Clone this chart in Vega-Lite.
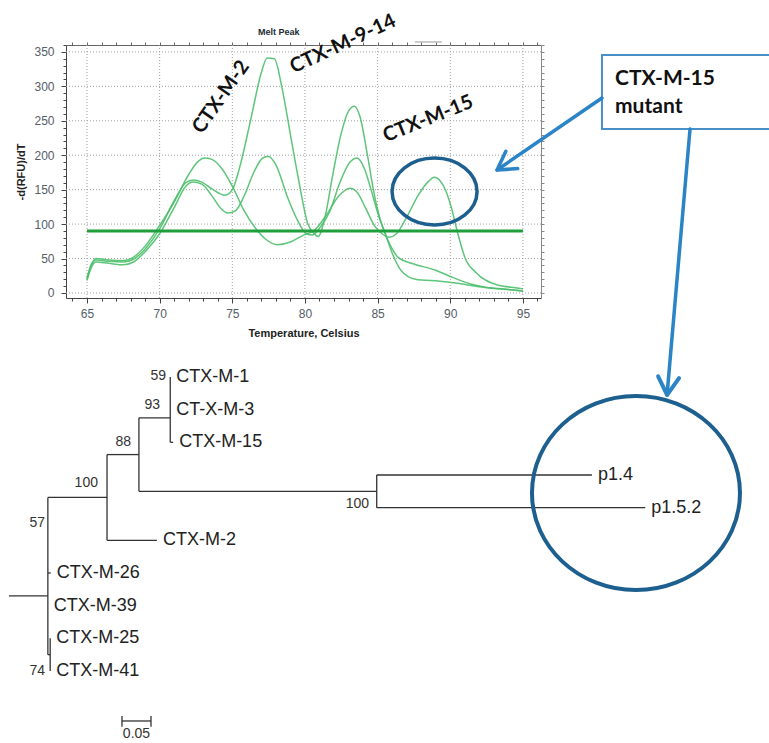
{
"$schema": "https://vega.github.io/schema/vega-lite/v6.json",
"width": 769, "height": 743, "padding": 0, "autosize": {"type": "none"},
"background": "white",
"config": {"view": {"stroke": null}, "font": "Liberation Sans", "axis": {"grid": false}},
"datasets": {
"vgrid": [{"T":65},{"T":70},{"T":75},{"T":80},{"T":85},{"T":90},{"T":95}],
"hgrid": [{"V":0},{"V":50},{"V":100},{"V":150},{"V":200},{"V":250},{"V":300},{"V":350}],
"curves": [
{"s":1,"T":65,"V":20},{"s":1,"T":65.3,"V":40},{"s":1,"T":65.6,"V":50},{"s":1,"T":66.5,"V":48},{"s":1,"T":67.5,"V":47},{"s":1,"T":68.2,"V":52},{"s":1,"T":69,"V":68},{"s":1,"T":70,"V":98},{"s":1,"T":71,"V":132},{"s":1,"T":72,"V":172},{"s":1,"T":72.6,"V":190},{"s":1,"T":73.1,"V":196},{"s":1,"T":73.6,"V":194},{"s":1,"T":74.3,"V":180},{"s":1,"T":75,"V":155},{"s":1,"T":75.8,"V":120},{"s":1,"T":76.6,"V":94},{"s":1,"T":77.3,"V":78},{"s":1,"T":78.1,"V":70},{"s":1,"T":79,"V":74},{"s":1,"T":79.9,"V":84},{"s":1,"T":80.6,"V":90},{"s":1,"T":81.5,"V":114},{"s":1,"T":82.3,"V":140},{"s":1,"T":83.1,"V":152},{"s":1,"T":83.6,"V":146},{"s":1,"T":84.2,"V":122},{"s":1,"T":84.8,"V":97},{"s":1,"T":85.3,"V":86},{"s":1,"T":85.8,"V":81},{"s":1,"T":86.3,"V":86},{"s":1,"T":87,"V":110},{"s":1,"T":87.8,"V":142},{"s":1,"T":88.5,"V":162},{"s":1,"T":88.9,"V":168},{"s":1,"T":89.3,"V":163},{"s":1,"T":89.7,"V":148},{"s":1,"T":90.1,"V":122},{"s":1,"T":90.5,"V":88},{"s":1,"T":91,"V":52},{"s":1,"T":91.8,"V":29},{"s":1,"T":93.2,"V":12},{"s":1,"T":94.7,"V":7},{"s":1,"T":95,"V":6},
{"s":2,"T":65,"V":22},{"s":2,"T":65.3,"V":42},{"s":2,"T":65.6,"V":48},{"s":2,"T":66.5,"V":46},{"s":2,"T":67.5,"V":45},{"s":2,"T":68.2,"V":49},{"s":2,"T":69,"V":64},{"s":2,"T":70,"V":93},{"s":2,"T":71,"V":134},{"s":2,"T":71.8,"V":160},{"s":2,"T":72.3,"V":164},{"s":2,"T":72.9,"V":161},{"s":2,"T":73.6,"V":151},{"s":2,"T":74.5,"V":142},{"s":2,"T":75,"V":150},{"s":2,"T":75.6,"V":190},{"s":2,"T":76.3,"V":255},{"s":2,"T":77,"V":320},{"s":2,"T":77.4,"V":341},{"s":2,"T":77.9,"V":340},{"s":2,"T":78.4,"V":300},{"s":2,"T":79,"V":230},{"s":2,"T":79.6,"V":160},{"s":2,"T":80.2,"V":100},{"s":2,"T":80.6,"V":87},{"s":2,"T":80.9,"V":82},{"s":2,"T":81.4,"V":112},{"s":2,"T":81.9,"V":170},{"s":2,"T":82.5,"V":232},{"s":2,"T":83,"V":264},{"s":2,"T":83.4,"V":271},{"s":2,"T":83.8,"V":255},{"s":2,"T":84.3,"V":200},{"s":2,"T":84.8,"V":140},{"s":2,"T":85.4,"V":92},{"s":2,"T":85.9,"V":68},{"s":2,"T":86.4,"V":52},{"s":2,"T":87.5,"V":42},{"s":2,"T":89,"V":33},{"s":2,"T":90,"V":24},{"s":2,"T":91.4,"V":13},{"s":2,"T":92.5,"V":8},{"s":2,"T":94,"V":5},{"s":2,"T":95,"V":3},
{"s":3,"T":65,"V":18},{"s":3,"T":65.3,"V":37},{"s":3,"T":65.6,"V":45},{"s":3,"T":66.5,"V":43},{"s":3,"T":67.5,"V":41},{"s":3,"T":68.2,"V":45},{"s":3,"T":69,"V":60},{"s":3,"T":70,"V":86},{"s":3,"T":71,"V":124},{"s":3,"T":71.8,"V":155},{"s":3,"T":72.3,"V":161},{"s":3,"T":72.9,"V":158},{"s":3,"T":73.6,"V":141},{"s":3,"T":74.2,"V":123},{"s":3,"T":74.7,"V":116},{"s":3,"T":75.2,"V":119},{"s":3,"T":75.8,"V":140},{"s":3,"T":76.5,"V":176},{"s":3,"T":77.1,"V":196},{"s":3,"T":77.5,"V":198},{"s":3,"T":78,"V":186},{"s":3,"T":78.8,"V":139},{"s":3,"T":79.5,"V":105},{"s":3,"T":80.1,"V":86},{"s":3,"T":80.5,"V":84},{"s":3,"T":81,"V":94},{"s":3,"T":81.7,"V":118},{"s":3,"T":82.4,"V":160},{"s":3,"T":83.1,"V":190},{"s":3,"T":83.6,"V":196},{"s":3,"T":84.1,"V":180},{"s":3,"T":84.6,"V":146},{"s":3,"T":85.1,"V":110},{"s":3,"T":85.5,"V":88},{"s":3,"T":86,"V":58},{"s":3,"T":86.6,"V":33},{"s":3,"T":87.6,"V":20},{"s":3,"T":89.3,"V":17},{"s":3,"T":90.5,"V":14},{"s":3,"T":92,"V":9},{"s":3,"T":93.5,"V":6},{"s":3,"T":95,"V":3}
],
"segments": [
{"x":0,"y":7.7,"x2":0.067,"y2":7.7},
{"x":0.067,"y":4.6875,"x2":0.067,"y2":9.5},
{"x":0.067,"y":4.6875,"x2":0.169,"y2":4.6875},
{"x":0.169,"y":3.375,"x2":0.169,"y2":6},
{"x":0.169,"y":6,"x2":0.255,"y2":6},
{"x":0.169,"y":3.375,"x2":0.224,"y2":3.375},
{"x":0.224,"y":2.25,"x2":0.224,"y2":4.5},
{"x":0.224,"y":2.25,"x2":0.278,"y2":2.25},
{"x":0.278,"y":1,"x2":0.278,"y2":3},
{"x":0.278,"y":3,"x2":0.283,"y2":3},
{"x":0.224,"y":4.5,"x2":0.634,"y2":4.5},
{"x":0.634,"y":4,"x2":0.634,"y2":5},
{"x":0.634,"y":4,"x2":1.005,"y2":4},
{"x":0.634,"y":5,"x2":1.097,"y2":5},
{"x":0.067,"y":7,"x2":0.072,"y2":7},
{"x":0.067,"y":9.5,"x2":0.071,"y2":9.5},
{"x":0.071,"y":9,"x2":0.071,"y2":10}
],
"leaves": [
{"label":"CTX-M-1","x":0.278,"y":1},{"label":"CT-X-M-3","x":0.278,"y":2},{"label":"CTX-M-15","x":0.283,"y":3},{"label":"p1.4","x":1.005,"y":4},{"label":"p1.5.2","x":1.097,"y":5},{"label":"CTX-M-2","x":0.255,"y":6},{"label":"CTX-M-26","x":0.072,"y":7},{"label":"CTX-M-39","x":0.067,"y":8},{"label":"CTX-M-25","x":0.071,"y":9},{"label":"CTX-M-41","x":0.071,"y":10}
],
"boot": [
{"label":"59","x":0.2707,"y":0.97},{"label":"93","x":0.2603,"y":1.857},{"label":"88","x":0.2103,"y":2.99},{"label":"100","x":0.1534,"y":4.245},{"label":"57","x":0.0621,"y":5.469},{"label":"100","x":0.6207,"y":4.887},{"label":"74","x":0.0621,"y":10.0}
],
"scalebar": [
{"x":0.1948,"y":11.53,"x2":0.2448,"y2":11.53},{"x":0.1948,"y":11.38,"x2":0.1948,"y2":11.71},{"x":0.2448,"y":11.38,"x2":0.2448,"y2":11.71}
]
},
"resolve": {"scale": {"x": "independent", "y": "independent"}},
"layer": [
{"data": {"name": "vgrid"}, "mark": {"type": "rule", "color": "#a0a0a0", "strokeDash": [1, 2], "strokeWidth": 1},
 "encoding": {"x": {"field": "T", "type": "quantitative", "scale": {"domain": [63.555, 96.245], "range": [66, 541], "nice": false, "zero": false}, "axis": null},
  "y": {"datum": -7.3, "type": "quantitative", "scale": {"domain": [-7.3, 360], "range": [298, 45], "nice": false, "zero": false}, "axis": null}, "y2": {"datum": 360}}},
{"data": {"name": "hgrid"}, "mark": {"type": "rule", "color": "#a0a0a0", "strokeDash": [1, 2], "strokeWidth": 1},
 "encoding": {"y": {"field": "V", "type": "quantitative", "scale": {"domain": [-7.3, 360], "range": [298, 45], "nice": false, "zero": false}, "axis": null},
  "x": {"datum": 63.555, "type": "quantitative", "scale": {"domain": [63.555, 96.245], "range": [66, 541], "nice": false, "zero": false}, "axis": null}, "x2": {"datum": 96.245}}},
{"data": {"name": "curves"}, "mark": {"type": "line", "interpolate": "monotone", "color": "#4dbf6b", "strokeWidth": 1.5, "opacity": 0.9},
 "encoding": {
  "x": {"field": "T", "type": "quantitative", "scale": {"domain": [63.555, 96.245], "range": [66, 541], "nice": false, "zero": false},
   "axis": {"orient": "bottom", "offset": -445, "values": [65, 70, 75, 80, 85, 90, 95], "title": "Temperature, Celsius", "titleFontSize": 11, "titleFontWeight": "bold", "titleColor": "#222222", "titlePadding": 8, "labelFontSize": 12, "labelColor": "#555d66", "labelPadding": 5, "tickSize": 5, "tickColor": "#444444", "domainColor": "#444444", "grid": false}},
  "y": {"field": "V", "type": "quantitative", "scale": {"domain": [-7.3, 360], "range": [298, 45], "nice": false, "zero": false},
   "axis": {"orient": "left", "offset": -66, "values": [0, 50, 100, 150, 200, 250, 300, 350], "title": "-d(RFU)/dT", "titleFontSize": 11, "titleFontWeight": "bold", "titleColor": "#222222", "titlePadding": 7, "labelFontSize": 12, "labelColor": "#555d66", "labelPadding": 7, "tickSize": 5, "tickColor": "#444444", "domainColor": "#444444", "grid": false}},
  "detail": {"field": "s", "type": "nominal"}}},
{"data": {"name": "vgrid"}, "mark": {"type": "rule", "opacity": 0},
 "encoding": {"x": {"field": "T", "type": "quantitative", "scale": {"domain": [63.555, 96.245], "range": [66, 541], "nice": false, "zero": false},
  "axis": {"orient": "bottom", "offset": -445, "values": [64,65,66,67,68,69,70,71,72,73,74,75,76,77,78,79,80,81,82,83,84,85,86,87,88,89,90,91,92,93,94,95,96], "labels": false, "domain": false, "title": null, "tickSize": 3, "tickColor": "#444444", "grid": false}}}},
{"data": {"name": "vgrid"}, "mark": {"type": "rule", "opacity": 0},
 "encoding": {"x": {"field": "T", "type": "quantitative", "scale": {"domain": [63.555, 96.245], "range": [66, 541], "nice": false, "zero": false},
  "axis": {"orient": "top", "offset": -45, "values": [64,65,66,67,68,69,70,71,72,73,74,75,76,77,78,79,80,81,82,83,84,85,86,87,88,89,90,91,92,93,94,95,96], "labels": false, "domain": true, "domainColor": "#666666", "title": null, "tickSize": 3, "tickColor": "#666666", "grid": false}}}},
{"data": {"name": "hgrid"}, "mark": {"type": "rule", "opacity": 0},
 "encoding": {"y": {"field": "V", "type": "quantitative", "scale": {"domain": [-7.3, 360], "range": [298, 45], "nice": false, "zero": false},
  "axis": {"orient": "left", "offset": -66, "values": [0,10,20,30,40,50,60,70,80,90,100,110,120,130,140,150,160,170,180,190,200,210,220,230,240,250,260,270,280,290,300,310,320,330,340,350,360], "labels": false, "domain": false, "title": null, "tickSize": 3, "tickColor": "#444444", "grid": false}}}},
{"data": {"name": "hgrid"}, "mark": {"type": "rule", "opacity": 0},
 "encoding": {"y": {"field": "V", "type": "quantitative", "scale": {"domain": [-7.3, 360], "range": [298, 45], "nice": false, "zero": false},
  "axis": {"orient": "right", "offset": -228, "values": [0,10,20,30,40,50,60,70,80,90,100,110,120,130,140,150,160,170,180,190,200,210,220,230,240,250,260,270,280,290,300,310,320,330,340,350,360], "labels": false, "domain": true, "domainColor": "#888888", "title": null, "tickSize": 3, "tickColor": "#888888", "grid": false}}}},
{"data": {"values": [{"T": 65, "T2": 95, "V": 90}]}, "mark": {"type": "rule", "color": "#1f9e3b", "strokeWidth": 3},
 "encoding": {"x": {"field": "T", "type": "quantitative", "scale": {"domain": [63.555, 96.245], "range": [66, 541], "nice": false, "zero": false}, "axis": null}, "x2": {"field": "T2"},
  "y": {"field": "V", "type": "quantitative", "scale": {"domain": [-7.3, 360], "range": [298, 45], "nice": false, "zero": false}, "axis": null}}},
{"data": {"values": [{"label": "CTX-M-2", "T": 74.22, "V": 284.5}]}, "mark": {"type": "text", "angle": 305, "font": "Lato", "fontWeight": "bold", "fontSize": 20, "color": "#111111", "align": "center", "baseline": "middle"},
 "encoding": {"x": {"field": "T", "type": "quantitative", "scale": {"domain": [63.555, 96.245], "range": [66, 541], "nice": false, "zero": false}, "axis": null},
  "y": {"field": "V", "type": "quantitative", "scale": {"domain": [-7.3, 360], "range": [298, 45], "nice": false, "zero": false}, "axis": null}, "text": {"field": "label"}}},
{"data": {"values": [{"label": "CTX-M-9-14", "T": 82.62, "V": 361.5}]}, "mark": {"type": "text", "angle": 335, "font": "Lato", "fontWeight": "bold", "fontSize": 20, "color": "#111111", "align": "center", "baseline": "middle"},
 "encoding": {"x": {"field": "T", "type": "quantitative", "scale": {"domain": [63.555, 96.245], "range": [66, 541], "nice": false, "zero": false}, "axis": null},
  "y": {"field": "V", "type": "quantitative", "scale": {"domain": [-7.3, 360], "range": [298, 45], "nice": false, "zero": false}, "axis": null}, "text": {"field": "label"}}},
{"data": {"values": [{"label": "CTX-M-15", "T": 88.47, "V": 252.6}]}, "mark": {"type": "text", "angle": 338, "font": "Lato", "fontWeight": "bold", "fontSize": 20, "color": "#111111", "align": "center", "baseline": "middle"},
 "encoding": {"x": {"field": "T", "type": "quantitative", "scale": {"domain": [63.555, 96.245], "range": [66, 541], "nice": false, "zero": false}, "axis": null},
  "y": {"field": "V", "type": "quantitative", "scale": {"domain": [-7.3, 360], "range": [298, 45], "nice": false, "zero": false}, "axis": null}, "text": {"field": "label"}}},
{"data": {"values": [{"label": "Melt Peak", "T": 76.77, "V": 379}]}, "mark": {"type": "text", "fontWeight": "bold", "fontSize": 9, "color": "#222a35", "align": "left", "baseline": "middle"},
 "encoding": {"x": {"field": "T", "type": "quantitative", "scale": {"domain": [63.555, 96.245], "range": [66, 541], "nice": false, "zero": false}, "axis": null},
  "y": {"field": "V", "type": "quantitative", "scale": {"domain": [-7.3, 360], "range": [298, 45], "nice": false, "zero": false}, "axis": null}, "text": {"field": "label"}}},
{"data": {"values": [{"T": 87.57, "T2": 89.43, "V": 364.4}]}, "mark": {"type": "rule", "color": "#999999", "strokeWidth": 1},
 "encoding": {"x": {"field": "T", "type": "quantitative", "scale": {"domain": [63.555, 96.245], "range": [66, 541], "nice": false, "zero": false}, "axis": null}, "x2": {"field": "T2"},
  "y": {"field": "V", "type": "quantitative", "scale": {"domain": [-7.3, 360], "range": [298, 45], "nice": false, "zero": false}, "axis": null}}},
{"data": {"values": [{"T": 88.92, "V": 147.3}]}, "mark": {"type": "point", "shape": "M -1 0 A 1 0.788 0 1 1 1 0 A 1 0.788 0 1 1 -1 0 Z", "filled": false, "size": 7225, "stroke": "#1d5f8e", "strokeWidth": 3.5, "opacity": 1},
 "encoding": {"x": {"field": "T", "type": "quantitative", "scale": {"domain": [63.555, 96.245], "range": [66, 541], "nice": false, "zero": false}, "axis": null},
  "y": {"field": "V", "type": "quantitative", "scale": {"domain": [-7.3, 360], "range": [298, 45], "nice": false, "zero": false}, "axis": null}}},
{"data": {"values": [{"T": 100.44, "T2": 112.4, "V": 345.5, "V2": 238.0}]}, "mark": {"type": "rect", "fill": "white", "stroke": "#4a90c8", "strokeWidth": 2},
 "encoding": {"x": {"field": "T", "type": "quantitative", "scale": {"domain": [63.555, 96.245], "range": [66, 541], "nice": false, "zero": false}, "axis": null}, "x2": {"field": "T2"},
  "y": {"field": "V", "type": "quantitative", "scale": {"domain": [-7.3, 360], "range": [298, 45], "nice": false, "zero": false}, "axis": null}, "y2": {"field": "V2"}}},
{"data": {"values": [{"label": "CTX-M-15", "T": 101.34, "V": 301.9}, {"label": "mutant", "T": 101.34, "V": 260.9}]}, "mark": {"type": "text", "font": "Lato", "fontWeight": "bold", "fontSize": 21, "color": "#111111", "align": "left", "baseline": "alphabetic"},
 "encoding": {"x": {"field": "T", "type": "quantitative", "scale": {"domain": [63.555, 96.245], "range": [66, 541], "nice": false, "zero": false}, "axis": null},
  "y": {"field": "V", "type": "quantitative", "scale": {"domain": [-7.3, 360], "range": [298, 45], "nice": false, "zero": false}, "axis": null}, "text": {"field": "label"}}},
{"data": {"values": [{"T": 100.44, "V": 283.1, "T2": 93.22, "V2": 178.5}, {"T": 106.5, "V": 238.0, "T2": 104.92, "V2": -148.1}]}, "mark": {"type": "rule", "color": "#2b84c6", "strokeWidth": 3.5, "strokeCap": "round"},
 "encoding": {"x": {"field": "T", "type": "quantitative", "scale": {"domain": [63.555, 96.245], "range": [66, 541], "nice": false, "zero": false}, "axis": null}, "x2": {"field": "T2"},
  "y": {"field": "V", "type": "quantitative", "scale": {"domain": [-7.3, 360], "range": [298, 45], "nice": false, "zero": false}, "axis": null}, "y2": {"field": "V2"}}},
{"data": {"values": [{"T": 93.22, "V": 178.5}]}, "mark": {"type": "point", "shape": "M -1 -1.7 L 0 0 L 1 -1.7", "filled": false, "size": 441, "angle": 55.6, "stroke": "#2b84c6", "strokeWidth": 3.5, "strokeCap": "round", "strokeJoin": "round", "opacity": 1},
 "encoding": {"x": {"field": "T", "type": "quantitative", "scale": {"domain": [63.555, 96.245], "range": [66, 541], "nice": false, "zero": false}, "axis": null},
  "y": {"field": "V", "type": "quantitative", "scale": {"domain": [-7.3, 360], "range": [298, 45], "nice": false, "zero": false}, "axis": null}}},
{"data": {"values": [{"T": 104.92, "V": -148.1}]}, "mark": {"type": "point", "shape": "M -1 -1.7 L 0 0 L 1 -1.7", "filled": false, "size": 441, "angle": 4.9, "stroke": "#2b84c6", "strokeWidth": 4, "strokeCap": "round", "strokeJoin": "round", "opacity": 1},
 "encoding": {"x": {"field": "T", "type": "quantitative", "scale": {"domain": [63.555, 96.245], "range": [66, 541], "nice": false, "zero": false}, "axis": null},
  "y": {"field": "V", "type": "quantitative", "scale": {"domain": [-7.3, 360], "range": [298, 45], "nice": false, "zero": false}, "axis": null}}},
{"data": {"name": "segments"}, "mark": {"type": "rule", "color": "#333333", "strokeWidth": 1.3},
 "encoding": {"x": {"field": "x", "type": "quantitative", "scale": {"domain": [0, 1.2], "range": [9, 705], "nice": false, "zero": false}, "axis": null}, "x2": {"field": "x2"},
  "y": {"field": "y", "type": "quantitative", "scale": {"domain": [1, 10], "range": [377, 671], "nice": false, "zero": false}, "axis": null}, "y2": {"field": "y2"}}},
{"data": {"name": "scalebar"}, "mark": {"type": "rule", "color": "#333333", "strokeWidth": 1.3},
 "encoding": {"x": {"field": "x", "type": "quantitative", "scale": {"domain": [0, 1.2], "range": [9, 705], "nice": false, "zero": false}, "axis": null}, "x2": {"field": "x2"},
  "y": {"field": "y", "type": "quantitative", "scale": {"domain": [1, 10], "range": [377, 671], "nice": false, "zero": false}, "axis": null}, "y2": {"field": "y2"}}},
{"data": {"name": "leaves"}, "mark": {"type": "text", "fontSize": 18, "color": "#222222", "align": "left", "baseline": "middle", "dx": 6},
 "encoding": {"x": {"field": "x", "type": "quantitative", "scale": {"domain": [0, 1.2], "range": [9, 705], "nice": false, "zero": false}, "axis": null},
  "y": {"field": "y", "type": "quantitative", "scale": {"domain": [1, 10], "range": [377, 671], "nice": false, "zero": false}, "axis": null}, "text": {"field": "label"}}},
{"data": {"name": "boot"}, "mark": {"type": "text", "fontSize": 14, "color": "#333333", "align": "right", "baseline": "middle"},
 "encoding": {"x": {"field": "x", "type": "quantitative", "scale": {"domain": [0, 1.2], "range": [9, 705], "nice": false, "zero": false}, "axis": null},
  "y": {"field": "y", "type": "quantitative", "scale": {"domain": [1, 10], "range": [377, 671], "nice": false, "zero": false}, "axis": null}, "text": {"field": "label"}}},
{"data": {"values": [{"label": "0.05", "x": 0.2198, "y": 11.93}]}, "mark": {"type": "text", "fontSize": 14, "color": "#333333", "align": "center", "baseline": "middle"},
 "encoding": {"x": {"field": "x", "type": "quantitative", "scale": {"domain": [0, 1.2], "range": [9, 705], "nice": false, "zero": false}, "axis": null},
  "y": {"field": "y", "type": "quantitative", "scale": {"domain": [1, 10], "range": [377, 671], "nice": false, "zero": false}, "axis": null}, "text": {"field": "label"}}},
{"data": {"values": [{"x": 1.081, "y": 4.551}]}, "mark": {"type": "point", "shape": "M -1 0 A 1 0.933 0 1 1 1 0 A 1 0.933 0 1 1 -1 0 Z", "filled": false, "size": 43264, "stroke": "#1d5f8e", "strokeWidth": 4, "opacity": 1},
 "encoding": {"x": {"field": "x", "type": "quantitative", "scale": {"domain": [0, 1.2], "range": [9, 705], "nice": false, "zero": false}, "axis": null},
  "y": {"field": "y", "type": "quantitative", "scale": {"domain": [1, 10], "range": [377, 671], "nice": false, "zero": false}, "axis": null}}}
]
}
